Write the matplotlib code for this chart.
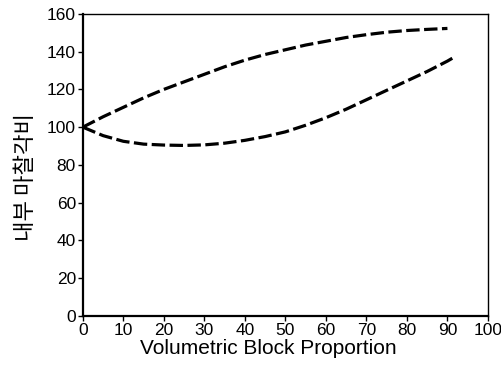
import matplotlib
matplotlib.use("Agg")
import matplotlib.pyplot as plt

x_upper = [0, 5, 10, 15, 20, 25, 30, 35, 40, 45, 50, 55, 60, 65, 70, 75, 80, 85, 90]
y_upper = [100, 105.5, 110.5, 115.5, 120, 124, 128, 132, 135.5, 138.5, 141, 143.5, 145.5, 147.5, 149, 150.3, 151.2, 151.8, 152.3]

x_lower = [0, 5, 10, 15, 20, 25, 30, 35, 40, 45, 50, 55, 60, 65, 70, 75, 80, 85, 90, 92]
y_lower = [100, 95.5, 92.5, 91, 90.5, 90.3, 90.6, 91.5, 93, 95, 97.5, 101, 105, 109.5, 114.5, 119.5, 124.5, 129.5, 135, 137.5]

xticks = [0, 10, 20, 30, 40, 50, 60, 70, 80, 90, 100]
yticks = [0, 20, 40, 60, 80, 100, 120, 140, 160]

plt.rcParams['font.family'] = ['Liberation Sans', 'Noto Sans CJK KR', 'DejaVu Sans']

fig = plt.figure(figsize=(5.02, 3.66), dpi=100)
ax = fig.add_axes([0.165, 0.137, 0.807, 0.825])

for xs, ys in [(x_upper, y_upper), (x_lower, y_lower)]:
    ax.plot(xs, ys, color='black', lw=2.3, linestyle=(0, (4.2, 1.4)),
            solid_capstyle='butt', dash_capstyle='butt')

ax.set_xlim(0, 100)
ax.set_ylim(0, 160)
ax.set_xticks(xticks)
ax.set_yticks(yticks)
ax.tick_params(direction='out', length=3.5, width=1, labelsize=12.5, pad=1.5)
for s in ['left', 'bottom']:
    ax.spines[s].set_linewidth(1.6)
for s in ['top', 'right']:
    ax.spines[s].set_linewidth(1.0)

ax.set_xlabel('Volumetric Block Proportion', fontsize=15)
ax.xaxis.set_label_coords(0.457, -0.075, transform=ax.transAxes)
ax.xaxis.label.set_va('top')
ax.set_ylabel('내부 마찰각비', fontsize=16, family=['Noto Sans CJK KR', 'DejaVu Sans'])
ax.yaxis.set_label_coords(-0.113, 0.46)

fig.savefig('out.png', dpi=100)
